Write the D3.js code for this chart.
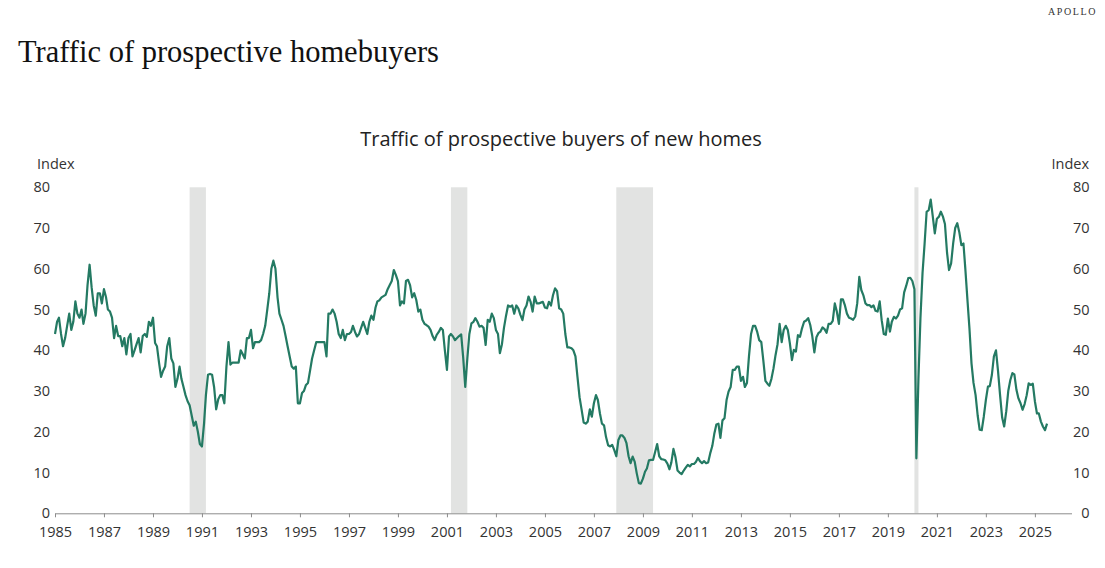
<!DOCTYPE html>
<html>
<head>
<meta charset="utf-8">
<script src="https://cdn.jsdelivr.net/npm/d3@7"></script>
<style>
  body { margin: 0; background: #fff; }
  svg { display: block; }
</style>
</head>
<body>
<svg id="chart" width="1105" height="568"></svg>
<script>
// monthly readings, first value is Jan 1985
const startMonth = "1985-01";
const traffic = [
  // 1985
  44, 47, 48, 44, 41, 43, 46, 49, 45, 47, 52, 49,
  // 1986
  48, 50, 46.5, 49, 56, 61, 55.5, 51, 48.5, 54, 54, 51.5,
  // 1987
  55, 53, 50, 49.5, 48, 43, 46, 43.5, 43.5, 41, 43, 39,
  // 1988
  43, 44, 38.5, 40, 41.5, 43, 39.5, 43.5, 44, 43.3, 47, 46,
  // 1989
  48, 41.8, 41, 37, 33.5, 35, 36, 41, 43, 38, 36.8, 31,
  // 1990
  33, 36, 33, 31, 29, 27.5, 26.5, 24, 21.5, 22.5, 20, 17,
  // 1991
  16.4, 22, 29, 34, 34.2, 34, 31, 25.5, 28, 29, 29, 27,
  // 1992
  36, 42, 36.5, 37, 37, 37, 37, 40, 39, 38, 43, 43,
  // 1993
  45, 40.5, 42, 42, 42, 42.5, 44, 46, 50, 54, 60, 62,
  // 1994
  60, 53, 49, 47.5, 46, 43.5, 41, 38.5, 36, 35.5, 36, 27,
  // 1995
  27, 29.5, 30, 31.5, 32, 35, 38, 40, 42, 42, 42, 42,
  // 1996
  42, 38.5, 49, 49, 50, 49, 47, 44, 43, 45, 42.5, 44,
  // 1997
  44, 44.5, 46, 44.5, 43.4, 44, 45.5, 47, 45.5, 44, 47, 48.5,
  // 1998
  47.5, 50.5, 52, 52.3, 53, 53.3, 53.6, 55, 56, 57, 59.7, 58.5,
  // 1999
  57, 51, 52, 51.5, 57, 57.3, 56, 53, 54, 52.4, 49.5, 50,
  // 2000
  47.5, 46.5, 46.2, 45.8, 45, 43.5, 42.5, 43.8, 44.5, 45.5, 45, 40,
  // 2001
  35.2, 43.4, 44, 43.4, 42.5, 43, 43.5, 43.9, 38, 31, 38, 44,
  // 2002
  46.6, 47, 47.9, 47, 45.8, 46, 45.5, 41.3, 47.5, 47, 49, 47.9,
  // 2003
  45, 44, 39.3, 41.5, 45.5, 48.5, 51, 50.7, 51, 49, 51, 50.3,
  // 2004
  48.7, 47.4, 50, 51, 53.2, 51.9, 49.5, 53.2, 51.5, 51.5, 51.7, 51.9,
  // 2005
  50.5, 50.3, 51.9, 51, 53.5, 55.2, 54.5, 50.3, 50, 49, 44, 40.7,
  // 2006
  40.7, 40.5, 40, 38.5, 33.5, 28.5, 25.5, 22.3, 22, 22.5, 25.5, 23.7,
  // 2007
  27, 29, 27.8, 24.5, 22, 21.6, 18.7, 16.7, 16.4, 16.8, 15.5, 14,
  // 2008
  18, 19.1, 19.1, 18.5, 17.2, 14, 12.3, 13.9, 12.6, 9.8, 7.4, 7.3,
  // 2009
  8.5, 10.2, 11, 13, 13.1, 13.1, 15, 17, 14, 13.3, 13.2, 13,
  // 2010
  12.2, 10.8, 12.5, 15.8, 13.8, 10.5, 10, 9.6, 10.5, 11.2, 11.9, 11.5,
  // 2011
  12.1, 12.1, 12.6, 13.6, 12.8, 12.3, 12.8, 12.3, 12.5, 14.7, 16.5, 19.5,
  // 2012
  21.8, 22, 18.5, 22.8, 23.3, 27.8, 29.9, 31, 35.2, 35.2, 36, 36,
  // 2013
  32.5, 33.5, 31, 32, 38.5, 44, 46, 46, 44.5, 42.5, 42, 37.5,
  // 2014
  32.5, 31.8, 31.3, 33, 35.5, 38.8, 41.5, 46.5, 42, 45, 46, 45,
  // 2015
  41.7, 37.6, 40.1, 39.7, 43.7, 43.3, 45.4, 47, 47.3, 47.9, 46.2, 43.5,
  // 2016
  39.5, 43.2, 44.2, 44.6, 45.6, 45.2, 44.3, 46.5, 46.5, 47.2, 51.5, 49.5,
  // 2017
  46.5, 52.5, 52.5, 51, 49, 48, 47.8, 47.5, 48.3, 51.5, 58, 54.8,
  // 2018
  53.5, 51.5, 51.1, 51.1, 50.6, 51, 49.7, 49.5, 52, 47.4, 44, 43.8,
  // 2019
  47.8, 44.6, 47, 48.2, 47.8, 48.5, 50, 50.3, 54.2, 55.8, 57.7, 57.8,
  // 2020
  57, 55, 13.5, 33, 48, 59, 66, 74, 74.4, 77, 72.8, 68.7,
  // 2021
  72.3, 72.8, 74, 72.8, 71, 64, 59.7, 61.3, 66.3, 70, 71.2, 69,
  // 2022
  65.8, 66.2, 60, 52.5, 45.5, 36.8, 32, 29, 24, 20.5, 20.4, 23.7,
  // 2023
  27.8, 31.1, 31.2, 34, 38.5, 40, 35, 29, 23.5, 21.3, 25, 30,
  // 2024
  32.7, 34.4, 34.1, 30.3, 28.2, 27, 25.4, 26.8, 29, 31.9, 31.5, 31.8,
  // 2025
  27.5, 24.5, 24.5, 22.5, 21.3, 20.4, 22
];

// NBER recessions (shaded)
const recessionStart = ["1990-07", "2001-03", "2007-12", "2020-02"];
const recessionEnd   = ["1991-03", "2001-11", "2009-06", "2020-04"];

const yTicks = [0, 10, 20, 30, 40, 50, 60, 70, 80];
const xTickYears = d3.range(1985, 2026, 2);

const parseMonth = d3.timeParse("%Y-%m");
const start = parseMonth(startMonth);
const data = traffic.map((v, i) => ({ date: d3.timeMonth.offset(start, i), value: v }));

const svg = d3.select("#chart");
const plotL = 55, plotR = 1071.5, plotT = 187.3, plotB = 513.3;
const tickFont = "'Open Sans', sans-serif";

const x = d3.scaleTime()
  .domain([new Date(1985, 0, 1), new Date(2026, 6, 1)])
  .range([plotL, plotR]);
const y = d3.scaleLinear().domain([0, 80]).range([plotB, plotT]);

// headings
svg.append("text")
  .attr("x", 1097).attr("y", 15)
  .attr("text-anchor", "end")
  .style("font-family", "'Liberation Serif', serif")
  .style("font-size", "10px")
  .style("letter-spacing", "1.6px")
  .style("fill", "#333")
  .text("APOLLO");

svg.append("text")
  .attr("x", 18).attr("y", 62)
  .style("font-family", "'Liberation Serif', 'DejaVu Serif', serif")
  .style("font-size", "30.5px")
  .style("fill", "#111")
  .text("Traffic of prospective homebuyers");

svg.append("text")
  .attr("x", 561).attr("y", 146)
  .attr("text-anchor", "middle")
  .style("font-family", tickFont)
  .style("font-size", "20px")
  .style("fill", "#222")
  .text("Traffic of prospective buyers of new homes");

svg.append("text")
  .attr("x", 37).attr("y", 169)
  .style("font-family", tickFont)
  .style("font-size", "14.5px").style("fill", "#333")
  .text("Index");
svg.append("text")
  .attr("x", 1089).attr("y", 169)
  .attr("text-anchor", "end")
  .style("font-family", tickFont)
  .style("font-size", "14.5px").style("fill", "#333")
  .text("Index");

// recession bars
svg.append("g").selectAll("rect")
  .data(recessionStart.map((s, i) => ({ s: parseMonth(s), e: parseMonth(recessionEnd[i]) })))
  .join("rect")
  .attr("x", d => x(d.s))
  .attr("width", d => x(d.e) - x(d.s))
  .attr("y", plotT)
  .attr("height", plotB - plotT)
  .style("fill", "#e2e3e2");

// y axes, labels only
const yLeft = svg.append("g")
  .attr("transform", `translate(${plotL},0)`)
  .call(d3.axisLeft(y).tickValues(yTicks).tickSize(0).tickPadding(5));
const yRight = svg.append("g")
  .attr("transform", `translate(${plotR + 18},0)`)
  .call(d3.axisLeft(y).tickValues(yTicks).tickSize(0).tickPadding(0));
[yLeft, yRight].forEach(g => {
  g.select(".domain").remove();
  g.selectAll("text")
    .style("font-family", tickFont)
    .style("font-size", "14.5px")
    .style("fill", "#333");
});

// x axis
const xAxis = svg.append("g")
  .attr("transform", `translate(0,${plotB})`)
  .call(d3.axisBottom(x)
    .tickValues(xTickYears.map(yr => new Date(yr, 0, 1)))
    .tickFormat(d3.timeFormat("%Y"))
    .tickSize(4)
    .tickSizeOuter(0)
    .tickPadding(9));
xAxis.select(".domain").style("stroke", "#8c8c8c");
xAxis.selectAll(".tick line").style("stroke", "#8c8c8c");
xAxis.selectAll("text")
  .style("font-family", tickFont)
  .style("font-size", "14.5px")
  .style("fill", "#333");

// the series
svg.append("path")
  .datum(data)
  .attr("d", d3.line().x(d => x(d.date)).y(d => y(d.value)))
  .style("fill", "none")
  .style("stroke", "#247a63")
  .style("stroke-width", 2.2)
  .style("stroke-linejoin", "round");
</script>
</body>
</html>
